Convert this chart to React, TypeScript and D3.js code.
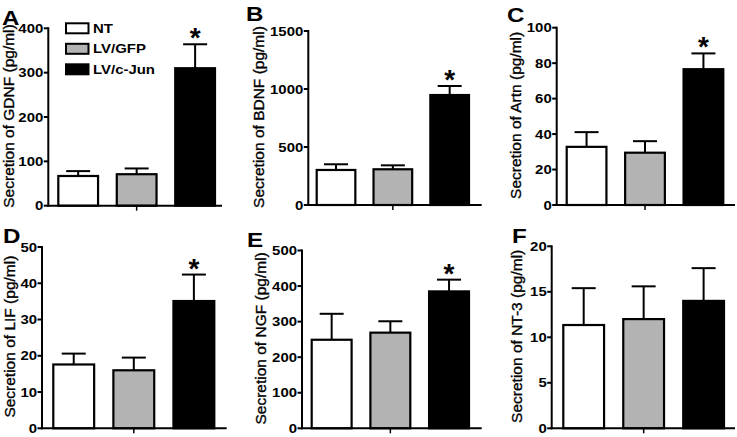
import React from "react";
import * as d3 from "d3";

// ---------- data ----------
const groups = ["NT", "LV/GFP", "LV/c-Jun"];
const groupFills = ["#ffffff", "#b3b3b3", "#000000"];

const panelLetters = ["A", "B", "C", "D", "E", "F"];
const factorNames = ["GDNF", "BDNF", "Artn", "LIF", "NGF", "NT-3"];

const gdnfMean = [67, 71, 310];
const gdnfErr = [11, 13, 54];
const bdnfMean = [302, 308, 948];
const bdnfErr = [49, 34, 78];
const artnMean = [32.8, 29.5, 76.6];
const artnErr = [8.3, 6.5, 8.9];
const lifMean = [17.6, 16.0, 35.1];
const lifErr = [3.0, 3.5, 7.3];
const ngfMean = [249, 269, 385];
const ngfErr = [73, 32, 33];
const nt3Mean = [11.35, 12.0, 14.0];
const nt3Err = [4.05, 3.6, 3.6];

const gdnfTicks = [0, 100, 200, 300, 400];
const bdnfTicks = [0, 500, 1000, 1500];
const artnTicks = [0, 20, 40, 60, 80, 100];
const lifTicks = [0, 10, 20, 30, 40, 50];
const ngfTicks = [0, 100, 200, 300, 400, 500];
const nt3Ticks = [0, 5, 10, 15, 20];

const significant = [true, true, true, true, true, false];

const means = [gdnfMean, bdnfMean, artnMean, lifMean, ngfMean, nt3Mean];
const errs = [gdnfErr, bdnfErr, artnErr, lifErr, ngfErr, nt3Err];
const tickSets = [gdnfTicks, bdnfTicks, artnTicks, lifTicks, ngfTicks, nt3Ticks];

// ---------- layout (pixel positions) ----------
const layouts = [
  { x0: 48.3, x1: 222, b0: 58.3, b1: 215, yTop: 28.3, yBot: 205.7, lx: 2, ly: 25, tx: 14 },
  { x0: 308.3, x1: 481.7, b0: 316.7, b1: 469, yTop: 31, yBot: 205, lx: 246, ly: 20.5, tx: 264 },
  { x0: 556.7, x1: 735, b0: 566.7, b1: 723.3, yTop: 27.7, yBot: 205, lx: 507, ly: 21.7, tx: 521 },
  { x0: 42, x1: 226.7, b0: 53.3, b1: 214.3, yTop: 247, yBot: 428.3, lx: 3, ly: 242.7, tx: 14.5 },
  { x0: 302, x1: 481.7, b0: 311.7, b1: 469, yTop: 250.5, yBot: 428.3, lx: 247, ly: 246.7, tx: 266 },
  { x0: 551.7, x1: 735, b0: 563.3, b1: 724, yTop: 246.3, yBot: 428.3, lx: 512, ly: 242.7, tx: 522 },
];

const FONT = "'Liberation Sans', Arial, Helvetica, sans-serif";
const SX = 1.15; // horizontal stretch of the original figure's lettering

function Panel({ i }: { i: number }) {
  const L = layouts[i];
  const ticks = tickSets[i];
  const m = means[i];
  const e = errs[i];
  const x = d3.scaleBand<string>().domain(groups).range([L.b0, L.b1]).paddingInner(0.32).paddingOuter(0);
  const y = d3.scaleLinear().domain([0, ticks[ticks.length - 1]]).range([L.yBot, L.yTop]);
  const bw = x.bandwidth();
  const capHalf = 12;
  const midY = (L.yTop + L.yBot) / 2 - 1;

  return (
    <g>
      {/* panel letter */}
      <text
        transform={`translate(${L.lx},${L.ly}) scale(${SX},1)`}
        fontFamily={FONT}
        fontWeight="bold"
        fontSize={21}
        fill="#000"
      >
        {panelLetters[i]}
      </text>
      {/* y title */}
      <text
        transform={`translate(${L.tx},${midY}) rotate(-90)`}
        textAnchor="middle"
        fontFamily={FONT}
        fontSize={15.5}
        fill="#000"
        stroke="#000"
        strokeWidth={0.35}
      >
        {`Secretion of ${factorNames[i]} (pg/ml)`}
      </text>
      {/* bars */}
      {groups.map((g, k) => (
        <rect
          key={g}
          x={x(g)}
          y={y(m[k])}
          width={bw}
          height={L.yBot - y(m[k])}
          fill={groupFills[k]}
          stroke="#000"
          strokeWidth={2.2}
        />
      ))}
      {/* error bars */}
      {groups.map((g, k) => {
        const cx = (x(g) as number) + bw / 2;
        return (
          <g key={g} stroke="#000" strokeWidth={2}>
            <line x1={cx} x2={cx} y1={y(m[k])} y2={y(m[k] + e[k])} />
            <line x1={cx - capHalf} x2={cx + capHalf} y1={y(m[k] + e[k])} y2={y(m[k] + e[k])} />
          </g>
        );
      })}
      {/* significance star */}
      {significant[i] && (
        <text
          x={(x(groups[2]) as number) + bw / 2}
          y={y(m[2] + e[2]) + 3}
          textAnchor="middle"
          fontFamily={FONT}
          fontWeight="bold"
          fontSize={28}
          fill="#000"
        >
          *
        </text>
      )}
      {/* axes */}
      <line x1={L.x0} x2={L.x0} y1={L.yTop - 1} y2={L.yBot + 1} stroke="#000" strokeWidth={2} />
      <line x1={L.x0 - 1} x2={L.x1} y1={L.yBot} y2={L.yBot} stroke="#000" strokeWidth={2} />
      <line
        x1={(x(groups[1]) as number) + bw / 2}
        x2={(x(groups[1]) as number) + bw / 2}
        y1={L.yBot}
        y2={L.yBot + 5}
        stroke="#000"
        strokeWidth={1.5}
      />
      {ticks.map((t) => (
        <g key={t}>
          <line x1={L.x0 - 4.5} x2={L.x0} y1={y(t)} y2={y(t)} stroke="#000" strokeWidth={2} />
          <text
            transform={`translate(${L.x0 - 5},${y(t) + 4.6}) scale(${SX},1)`}
            textAnchor="end"
            fontFamily={FONT}
            fontWeight="bold"
            fontSize={13}
            fill="#000"
          >
            {t}
          </text>
        </g>
      ))}
    </g>
  );
}

function Legend() {
  const bx = 66;
  const by = 23.3;
  const step = 20.5;
  return (
    <g>
      {groups.map((g, k) => (
        <g key={g}>
          <rect x={bx} y={by + k * step} width={22.5} height={10} fill={groupFills[k]} stroke="#000" strokeWidth={2} />
          <text
            transform={`translate(${bx + 27},${by + k * step + 9.5}) scale(${SX},1)`}
            fontFamily={FONT}
            fontWeight="bold"
            fontSize={13}
            fill="#000"
          >
            {g}
          </text>
        </g>
      ))}
    </g>
  );
}

export default function App() {
  return (
    <svg
      width={737}
      height={437}
      viewBox="0 0 737 437"
      style={{ position: "absolute", left: 0, top: 0, background: "#fff" }}
    >
      <rect x={0} y={0} width={737} height={437} fill="#fff" />
      {layouts.map((_, i) => (
        <Panel key={i} i={i} />
      ))}
      <Legend />
    </svg>
  );
}
